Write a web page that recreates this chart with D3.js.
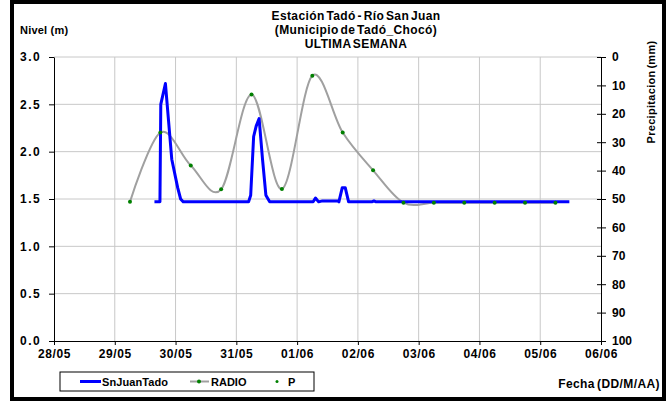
<!DOCTYPE html>
<html>
<head>
<meta charset="utf-8">
<script src="https://cdn.jsdelivr.net/npm/d3@7"></script>
<style>
  body { margin: 0; background: #fff; }
  text { font-family: "Liberation Sans", Arial, sans-serif; font-weight: bold; }
</style>
</head>
<body>
<div id="chart"></div>
<script>
// nivel del rio (m) - SnJuanTado
const nivelFechas = [
  "29/05 15:40", "29/05 17:50", "29/05 18:10", "29/05 20:00", "29/05 22:30",
  "30/05 00:50", "30/05 02:00", "30/05 03:00", "31/05 04:50", "31/05 05:40",
  "31/05 06:50", "31/05 07:50", "31/05 09:00", "31/05 10:20", "31/05 11:40",
  "31/05 13:10", "01/06 06:20", "01/06 07:15", "01/06 08:30", "01/06 10:00",
  "01/06 16:00", "01/06 16:30", "01/06 17:50", "01/06 19:00", "01/06 20:20",
  "02/06 05:30", "02/06 06:20", "02/06 07:10", "05/06 11:30"
];
const nivelValores = [
  1.47, 1.47, 2.50, 2.72, 1.92,
  1.62, 1.50, 1.47, 1.47, 1.54,
  2.16, 2.27, 2.35, 1.92, 1.54,
  1.47, 1.47, 1.51, 1.47, 1.48,
  1.48, 1.47, 1.62, 1.62, 1.47,
  1.47, 1.48, 1.47, 1.47
];

// precipitacion (mm) - RADIO / P
const precFechas = [
  "29/05 06:00", "29/05 18:00", "30/05 06:00", "30/05 18:00", "31/05 06:00",
  "31/05 18:00", "01/06 06:00", "01/06 18:00", "02/06 06:00", "02/06 18:00",
  "03/06 06:00", "03/06 18:00", "04/06 06:00", "04/06 18:00", "05/06 06:00"
];
const precValores = [51, 26.6, 38.2, 46.6, 13.2, 46.5, 6.6, 26.6, 39.9, 51.3, 51.3, 51.3, 51.3, 51.3, 51.3];

const diasEje = ["28/05", "29/05", "30/05", "31/05", "01/06", "02/06", "03/06", "04/06", "05/06", "06/06"];
const nivelTicks = [0, 0.5, 1, 1.5, 2, 2.5, 3];
const precTicks = [0, 10, 20, 30, 40, 50, 60, 70, 80, 90, 100];

const W = 669, H = 401;
const margin = { top: 57, right: 68, bottom: 60, left: 54 };
const parse = d3.timeParse("%d/%m %H:%M");

const nivel = nivelFechas.map((f, i) => ({ date: parse(f), v: nivelValores[i] }));
const prec = precFechas.map((f, i) => ({ date: parse(f), v: precValores[i] }));
const dias = diasEje.map(d => parse(d + " 00:00"));

const svg = d3.select("#chart").append("svg")
  .attr("width", W).attr("height", H);

svg.append("rect").attr("width", W).attr("height", H).attr("fill", "#fff");
// marco exterior
svg.append("rect")
  .attr("x", 12).attr("y", 2).attr("width", 652).attr("height", 397)
  .attr("fill", "none").attr("stroke", "#000").attr("stroke-width", 4);

const x = d3.scaleTime()
  .domain([dias[0], dias[dias.length - 1]])
  .range([margin.left, W - margin.right]);
const y = d3.scaleLinear().domain([0, 3]).range([H - margin.bottom, margin.top]);
const y2 = d3.scaleLinear().domain([0, 100]).range([margin.top, H - margin.bottom]);

// grid
svg.append("g").selectAll("line").data(nivelTicks.slice(1)).join("line")
  .attr("x1", margin.left).attr("x2", W - margin.right)
  .attr("y1", d => y(d)).attr("y2", d => y(d))
  .attr("stroke", "#c8c8c8").attr("stroke-width", 1);
svg.append("g").selectAll("line").data(dias.slice(1, -1)).join("line")
  .attr("x1", d => x(d)).attr("x2", d => x(d))
  .attr("y1", margin.top).attr("y2", H - margin.bottom)
  .attr("stroke", "#c8c8c8").attr("stroke-width", 1);

// ejes
const axisStyle = g => {
  g.select(".domain").attr("stroke", "#000");
  g.selectAll(".tick line").attr("stroke", "#000");
  g.selectAll("text").attr("fill", "#000").style("font-family", "'Liberation Sans', Arial, sans-serif")
    .style("font-weight", "bold");
};

svg.append("g")
  .attr("transform", `translate(${margin.left},0)`)
  .call(d3.axisLeft(y).tickValues(nivelTicks).tickFormat(d3.format(".1f")).tickSize(5).tickPadding(9).tickSizeOuter(0))
  .call(axisStyle)
  .call(g => g.selectAll("text").style("font-size", "12px").style("letter-spacing", "1.5px")
    .attr("text-anchor", "start").attr("x", -34));

svg.append("g")
  .attr("transform", `translate(0,${H - margin.bottom})`)
  .call(d3.axisBottom(x).tickValues(dias).tickFormat(d3.timeFormat("%d/%m")).tickSize(4).tickPadding(4).tickSizeOuter(0))
  .call(axisStyle)
  .call(g => g.selectAll("text").style("font-size", "12px").style("letter-spacing", "0.6px"));

svg.append("g")
  .attr("transform", `translate(${W - margin.right},0)`)
  .call(d3.axisRight(y2).tickValues(precTicks).tickSize(5).tickPadding(6).tickSizeOuter(0))
  .call(axisStyle)
  .call(g => g.selectAll(".tick line").attr("x1", -4))
  .call(g => g.selectAll("text").style("font-size", "12px"));

// RADIO (suavizado)
svg.append("path")
  .datum(prec)
  .attr("fill", "none")
  .attr("stroke", "#a0a0a0")
  .attr("stroke-width", 2)
  .attr("d", d3.line().x(d => x(d.date)).y(d => y2(d.v)).curve(d3.curveCardinal.tension(0)));

// SnJuanTado
svg.append("path")
  .datum(nivel)
  .attr("fill", "none")
  .attr("stroke", "#0000ff")
  .attr("stroke-width", 3)
  .attr("stroke-linejoin", "round")
  .attr("d", d3.line().x(d => x(d.date)).y(d => y(d.v)));

// P
svg.append("g").selectAll("circle").data(prec).join("circle")
  .attr("cx", d => x(d.date)).attr("cy", d => y2(d.v)).attr("r", 2)
  .attr("fill", "#008000");

// titulos
const titulo = ["Estación Tadó - Río San Juan", "(Municipio de Tadó_Chocó)", "ULTIMA SEMANA"];
svg.append("g").selectAll("text").data(titulo).join("text")
  .attr("x", 356).attr("y", (d, i) => 20 + i * 14)
  .attr("text-anchor", "middle")
  .style("font-size", "12px")
  .style("letter-spacing", "0.4px")
  .style("word-spacing", "-2px")
  .text(d => d);

svg.append("text").attr("x", 20).attr("y", 34).style("font-size", "11px")
  .style("letter-spacing", "0.2px").text("Nivel (m)");

svg.append("text")
  .attr("transform", "translate(655,92) rotate(-90)")
  .attr("text-anchor", "middle")
  .style("font-size", "11px")
  .style("letter-spacing", "0.3px")
  .style("word-spacing", "-1.5px")
  .text("Precipitacion (mm)");

svg.append("text").attr("x", 660).attr("y", 388).attr("text-anchor", "end")
  .style("font-size", "12px").style("letter-spacing", "0.4px").style("word-spacing", "-1.5px")
  .text("Fecha (DD/M/AA)");

// leyenda
const leg = svg.append("g");
leg.append("rect").attr("x", 60).attr("y", 372).attr("width", 254).attr("height", 19)
  .attr("fill", "#fff").attr("stroke", "#000").attr("stroke-width", 1);
leg.append("line").attr("x1", 80).attr("x2", 101).attr("y1", 381.5).attr("y2", 381.5)
  .attr("stroke", "#0000ff").attr("stroke-width", 3);
leg.append("text").attr("x", 102).attr("y", 385.5).style("font-size", "11px")
  .style("letter-spacing", "0.1px").text("SnJuanTado");
leg.append("line").attr("x1", 190).attr("x2", 209).attr("y1", 381.5).attr("y2", 381.5)
  .attr("stroke", "#a0a0a0").attr("stroke-width", 2);
leg.append("circle").attr("cx", 199).attr("cy", 381.5).attr("r", 2).attr("fill", "#008000");
leg.append("text").attr("x", 211).attr("y", 385.5).style("font-size", "11px").text("RADIO");
leg.append("circle").attr("cx", 277).attr("cy", 381.5).attr("r", 1.5).attr("fill", "#008000");
leg.append("text").attr("x", 288).attr("y", 385.5).style("font-size", "11px").text("P");
</script>
</body>
</html>
